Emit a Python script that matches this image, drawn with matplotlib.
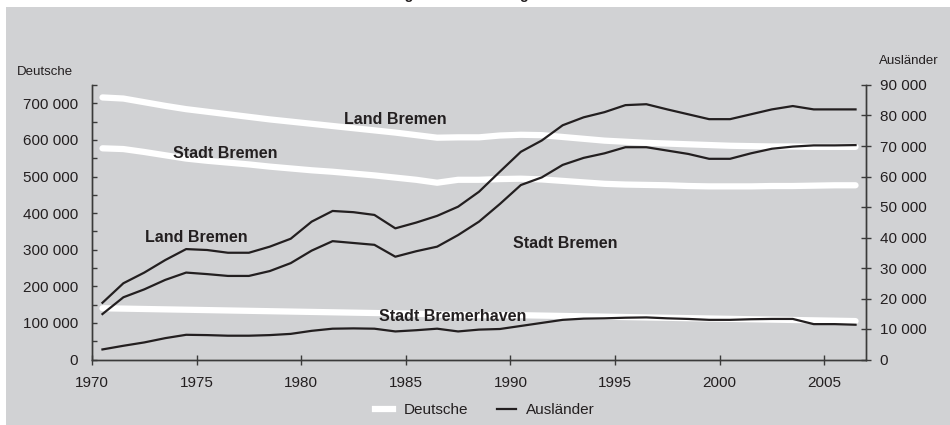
import matplotlib
matplotlib.use("Agg")
import matplotlib.pyplot as plt
import matplotlib.ticker as mticker
from matplotlib.patches import Rectangle
from matplotlib.lines import Line2D
import numpy as np

plt.rcParams['font.family'] = ['Liberation Sans', 'DejaVu Sans']

# Jahresmitte 1970 .. 2006
years = list(range(1970, 2007))

# Deutsche (in Tausend), linke Achse
de_land = [716, 713, 703, 693, 684, 677, 670, 663, 656, 650,
           644, 638, 632, 626, 620, 613, 606, 607, 607, 612,
           614, 613, 608, 603, 598, 595, 592, 590, 588, 586,
           584, 583, 582, 582, 581, 581, 581]
de_stadt = [577, 575, 567, 558, 549, 543, 538, 533, 527, 522,
            517, 513, 508, 503, 497, 491, 483, 491, 491, 493,
            494, 492, 488, 484, 480, 478, 477, 476, 474, 473,
            473, 473, 474, 474, 475, 476, 476]
de_bhv = [140, 139, 138, 137, 136, 135, 134, 133, 132, 131,
          130, 129, 128, 127, 126, 125, 123, 122, 121, 121,
          121, 120, 119, 118, 117, 116, 115, 114, 113, 112,
          111, 110, 109, 108, 107, 106, 105]

# Ausländer (in Tausend), rechte Achse
au_land = [18.6, 25.0, 28.5, 32.6, 36.2, 35.9, 35.0, 35.0, 37.0, 39.6,
           45.2, 48.7, 48.3, 47.4, 43.0, 44.9, 47.1, 50.1, 55.0, 61.6,
           68.1, 71.8, 76.8, 79.4, 81.1, 83.4, 83.7, 82.0, 80.4, 78.8,
           78.8, 80.4, 82.0, 83.1, 82.0, 82.0, 82.0]
au_stadt = [14.9, 20.4, 23.0, 26.1, 28.5, 28.0, 27.4, 27.4, 29.0, 31.6,
            35.7, 38.8, 38.2, 37.6, 33.7, 35.5, 37.0, 40.8, 45.2, 51.0,
            57.2, 59.7, 63.8, 66.1, 67.6, 69.6, 69.6, 68.5, 67.4, 65.8,
            65.8, 67.6, 69.1, 69.8, 70.2, 70.2, 70.3]
au_bhv = [3.3, 4.5, 5.6, 7.0, 8.1, 8.0, 7.8, 7.8, 8.0, 8.4,
          9.4, 10.1, 10.2, 10.1, 9.2, 9.6, 10.1, 9.2, 9.8, 10.0,
          11.0, 12.0, 13.0, 13.4, 13.5, 13.7, 13.8, 13.5, 13.3, 13.0,
          13.0, 13.2, 13.3, 13.3, 11.6, 11.6, 11.4]

TXT = '#231f20'
AX = '#3a3a3a'
BG = '#d1d2d4'


def space_fmt(v, pos):
    return f"{int(round(v)):,}".replace(",", " ")


fig = plt.figure(figsize=(9.5, 4.25), dpi=100)
fig.patch.set_facecolor('white')
fig.patches.append(Rectangle((6 / 950, 0), 1 - 6 / 950, 1 - 7 / 425,
                             transform=fig.transFigure, facecolor=BG,
                             edgecolor='none', zorder=-10))

# Titel liegt wie im Original fast ganz ausserhalb, nur Unterlängen sichtbar
fig.text(429.5 / 950, 1 + 1.2 / 425, 'Entwicklung der Bevölkerung', ha='center',
         va='baseline', fontsize=10.2, fontweight='bold', color=TXT)

ax = fig.add_axes([92 / 950, 65.5 / 425, 774 / 950, 274.5 / 425])
ax.set_facecolor('none')
ax2 = ax.twinx()

x = np.array(years) + 0.5
for vals in (de_land, de_stadt, de_bhv):
    ax.plot(x, np.array(vals) * 1000, color='white', lw=4.5,
            solid_capstyle='round', solid_joinstyle='round')
for vals in (au_land, au_stadt, au_bhv):
    ax2.plot(x, np.array(vals) * 1000, color=TXT, lw=1.6,
             solid_joinstyle='round')

ax.set_xlim(1970, 2007)
ax.set_ylim(0, 750000)
ax2.set_ylim(0, 90000)

ax.xaxis.set_major_locator(mticker.MultipleLocator(5))
ax.yaxis.set_major_locator(mticker.MultipleLocator(100000))
ax.yaxis.set_minor_locator(mticker.MultipleLocator(50000))
ax.yaxis.set_major_formatter(mticker.FuncFormatter(space_fmt))
ax2.yaxis.set_major_locator(mticker.MultipleLocator(10000))
ax2.yaxis.set_major_formatter(mticker.FuncFormatter(space_fmt))

for a in (ax, ax2):
    a.spines['top'].set_visible(False)
    for s in ('left', 'right', 'bottom'):
        a.spines[s].set_color(AX)
        a.spines[s].set_linewidth(1.0)

ax.tick_params(axis='x', direction='inout', length=7.2, width=1.0, color=AX,
               labelsize=11, labelcolor=TXT, pad=8)
ax.tick_params(axis='y', which='both', direction='in', length=3.5, width=1.0,
               color=AX, labelsize=11, labelcolor=TXT, pad=10)
ax2.tick_params(axis='y', direction='inout', length=7.7, width=1.0, color=AX,
                labelsize=11, labelcolor=TXT, pad=6)

fig.text(17 / 950, 1 - 71.7 / 425, 'Deutsche', ha='left', va='center',
         fontsize=9.5, color=TXT)
fig.text(909 / 950, 1 - 61 / 425, 'Ausländer', ha='center', va='center',
         fontsize=9.5, color=TXT)

labels = [('Land Bremen', 395.7, 120), ('Stadt Bremen', 225, 153),
          ('Land Bremen', 196, 237.7), ('Stadt Bremen', 565, 243),
          ('Stadt Bremerhaven', 452.5, 316.7)]
for txt, px, py in labels:
    fig.text(px / 950, 1 - py / 425, txt, ha='center', va='center',
             fontsize=11.5, fontweight='bold', color=TXT, zorder=5)

handles = [Line2D([], [], color='white', lw=4.5),
           Line2D([], [], color=TXT, lw=1.6)]
fig.legend(handles, ['Deutsche', 'Ausländer'], loc='center',
           bbox_to_anchor=(485 / 950, 15 / 425), ncol=2, frameon=False,
           fontsize=11, handlelength=1.2, handletextpad=0.7,
           columnspacing=1.9, labelcolor=TXT)

fig.savefig('out.png', dpi=100, facecolor=fig.get_facecolor())
